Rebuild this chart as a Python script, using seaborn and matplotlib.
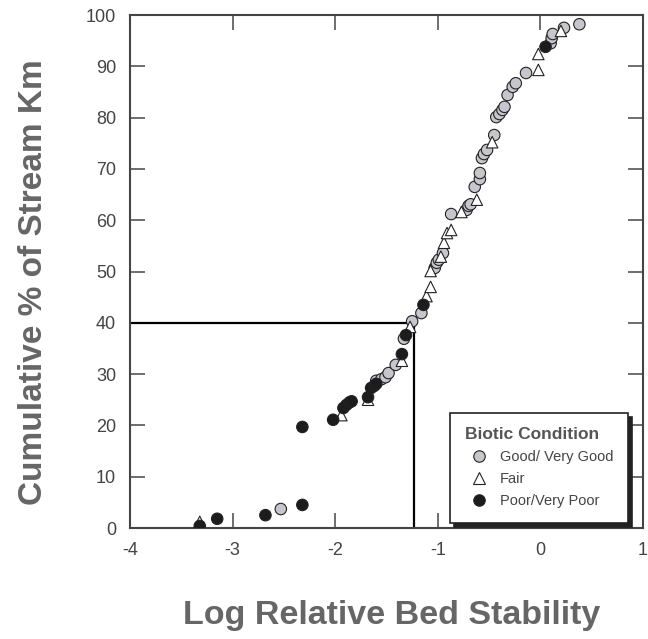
import pandas as pd
import seaborn as sns
import matplotlib.pyplot as plt

# Values
good_x = [-2.53, -1.60, -1.55, -1.51, -1.48, -1.41, -1.33, -1.25, -1.16, -1.03, -1.01, -0.99,
          -0.95, -0.87, -0.72, -0.70, -0.68, -0.64, -0.59, -0.59, -0.57, -0.55, -0.52, -0.45,
          -0.43, -0.40, -0.37, -0.35, -0.32, -0.27, -0.24, -0.14, 0.10, 0.11, 0.12, 0.23, 0.38]
good_y = [3.7, 28.7, 29.0, 29.4, 30.2, 31.8, 36.9, 40.3, 41.9, 50.7, 51.7, 52.3,
          53.6, 61.2, 62.0, 62.8, 63.1, 66.5, 68.0, 69.2, 72.1, 72.9, 73.7, 76.6,
          80.1, 80.7, 81.5, 82.1, 84.4, 86.0, 86.7, 88.7, 94.5, 95.5, 96.3, 97.5, 98.2]

fair_x = [-3.32, -1.94, -1.68, -1.35, -1.27, -1.11, -1.07, -1.07, -0.97, -0.94, -0.91, -0.87,
          -0.77, -0.62, -0.47, -0.02, -0.02, 0.20]
fair_y = [1.2, 22.0, 25.0, 32.6, 39.2, 45.2, 47.0, 50.1, 52.9, 55.6, 57.5, 58.1,
          61.6, 64.0, 75.2, 89.3, 92.4, 96.9]

poor_x = [-3.32, -3.15, -2.68, -2.32, -2.32, -2.02, -1.92, -1.89, -1.86, -1.84, -1.68, -1.65,
          -1.62, -1.60, -1.35, -1.31, -1.14, 0.05]
poor_y = [0.4, 1.8, 2.5, 4.5, 19.7, 21.1, 23.4, 24.0, 24.5, 24.7, 25.5, 27.3,
          27.7, 28.1, 33.9, 37.6, 43.5, 93.8]

labels = ['Good/ Very Good', 'Fair', 'Poor/Very Poor']
ref_x = -1.23
ref_y = 40

df = pd.concat([
    pd.DataFrame({'x': good_x, 'y': good_y, 'cond': labels[0]}),
    pd.DataFrame({'x': fair_x, 'y': fair_y, 'cond': labels[1]}),
    pd.DataFrame({'x': poor_x, 'y': poor_y, 'cond': labels[2]}),
])

sns.set_style('ticks')
plt.rcParams['font.family'] = ['Liberation Sans', 'DejaVu Sans']
plt.rcParams['axes.unicode_minus'] = False

fig = plt.figure(figsize=(6.48, 6.39), dpi=100)
ax = fig.add_axes([0.2006, 0.1737, 0.7917, 0.8028])

# reference lines
ax.plot([-4, ref_x], [ref_y, ref_y], color='black', lw=1.6, zorder=1)
ax.plot([ref_x, ref_x], [0, ref_y], color='black', lw=1.6, zorder=1)

palette = {labels[0]: '#c6c6cc', labels[1]: 'white', labels[2]: '#1c1c1c'}
markers = {labels[0]: 'o', labels[1]: '^', labels[2]: 'o'}
sns.scatterplot(data=df, x='x', y='y', hue='cond', style='cond', palette=palette,
                markers=markers, hue_order=labels, style_order=labels,
                s=68, edgecolor='#222222', linewidth=0.8, ax=ax, zorder=3)

ax.set_xlim(-4, 1)
ax.set_ylim(0, 100)
ax.set_xticks(range(-4, 2))
ax.set_yticks(range(0, 101, 10))
ax.tick_params(direction='in', length=11, width=1.2, color='#555555',
               top=True, right=True, labelsize=13, labelcolor='#444444', pad=10)
for sp in ax.spines.values():
    sp.set_color('#444444')
    sp.set_linewidth(1.5)

ax.set_xlabel('Log Relative Bed Stability', fontsize=24.5, fontweight='bold',
              color='#666666')
ax.set_ylabel('Cumulative % of Stream Km', fontsize=24, fontweight='bold',
              color='#666666')
ax.xaxis.set_label_coords(0.51, -0.14)
ax.yaxis.set_label_coords(-0.158, 0.48)

leg = ax.legend(title='Biotic Condition', loc='lower right', bbox_to_anchor=(0.97, 0.01),
                borderaxespad=0, frameon=True, fancybox=False, edgecolor='#222222',
                shadow={'color': '#222222', 'alpha': 1.0, 'ox': 3, 'oy': -3},
                fontsize=10.5, title_fontproperties={'weight': 'bold', 'size': 12.5},
                handletextpad=0.4, borderpad=1.0, labelspacing=0.55, markerscale=1.0)
leg.get_title().set_color('#555555')
leg._legend_box.align = 'left'
leg.get_frame().set_linewidth(1.2)
for t in leg.get_texts():
    t.set_color('#444444')

fig.savefig('out.png', dpi=100)
